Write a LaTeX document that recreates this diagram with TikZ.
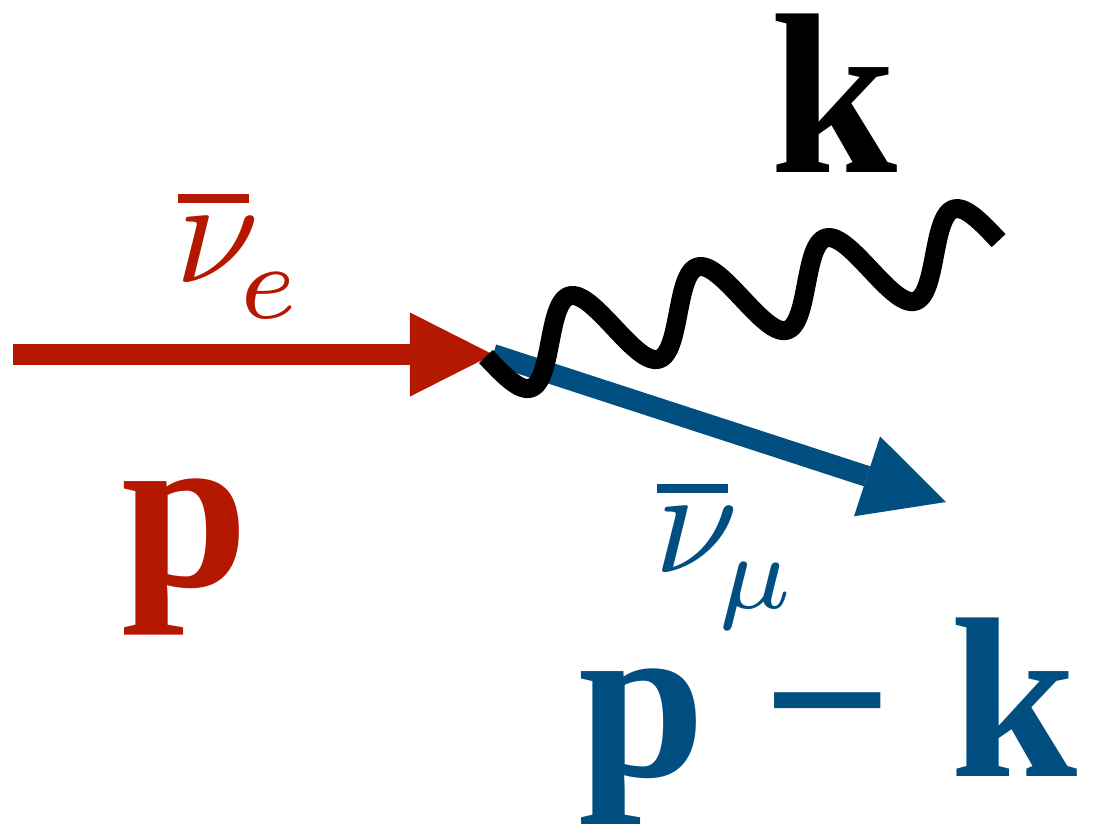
\documentclass[tikz,border=0pt]{standalone}
\usepackage{fontspec}
\setmainfont{Liberation Serif}
\usetikzlibrary{arrows.meta}
\definecolor{nured}{HTML}{B51800}
\definecolor{nublue}{HTML}{004F80}
% bar over nu, subscript lowered
\newcommand{\nubar}[1]{\rlap{\hspace{0.02em}\raisebox{0.52em}{\rule{0.47em}{0.06em}}}$\nu$\kern-0.13em\raisebox{-0.24em}{\fontsize{7}{8}\selectfont$#1$}}
\tikzset{
  fermion/.style={line width=0.21cm,-{Triangle[length=0.83cm,width=0.84cm,line width=0pt]}},
  photon/.style={line width=0.19cm,line join=round},
  momentum/.style={inner sep=0pt,anchor=base west,font=\fontsize{65}{70}\selectfont\bfseries},
  flavour/.style={inner sep=0pt,anchor=base west,scale=4.3,font=\fontsize{10}{12}\selectfont},
}
\begin{document}
\begin{tikzpicture}[x=0.01cm,y=-0.01cm]
  \useasboundingbox (0,0) rectangle (1098,823);
  \coordinate (in) at (13,354.5);
  \coordinate (vtx) at (493,354.5);
  \coordinate (out) at (946,502);
  % lines
  \draw[fermion,nublue] (vtx) -- (out);
  \draw[fermion,nured] (in) -- (vtx);
  \draw[photon] plot[domain=-pi:7*pi,samples=400,variable=\t]
    ({550+20.4*\t-12*sin(\t r)},{342-4.61*\t-39*sin(\t r)});
  % labels
  \node[flavour,nured] (nue) at (172,282) {\nubar{e}};
  \node[momentum,nured] (p) at (121,586) {p};
  \node[momentum] (k) at (770,172) {k};
  \node[flavour,nublue] (numu) at (651,572) {\nubar{\mu}};
  \node[momentum,nublue] (pk) at (578,776) {p − k};
\end{tikzpicture}
\end{document}
